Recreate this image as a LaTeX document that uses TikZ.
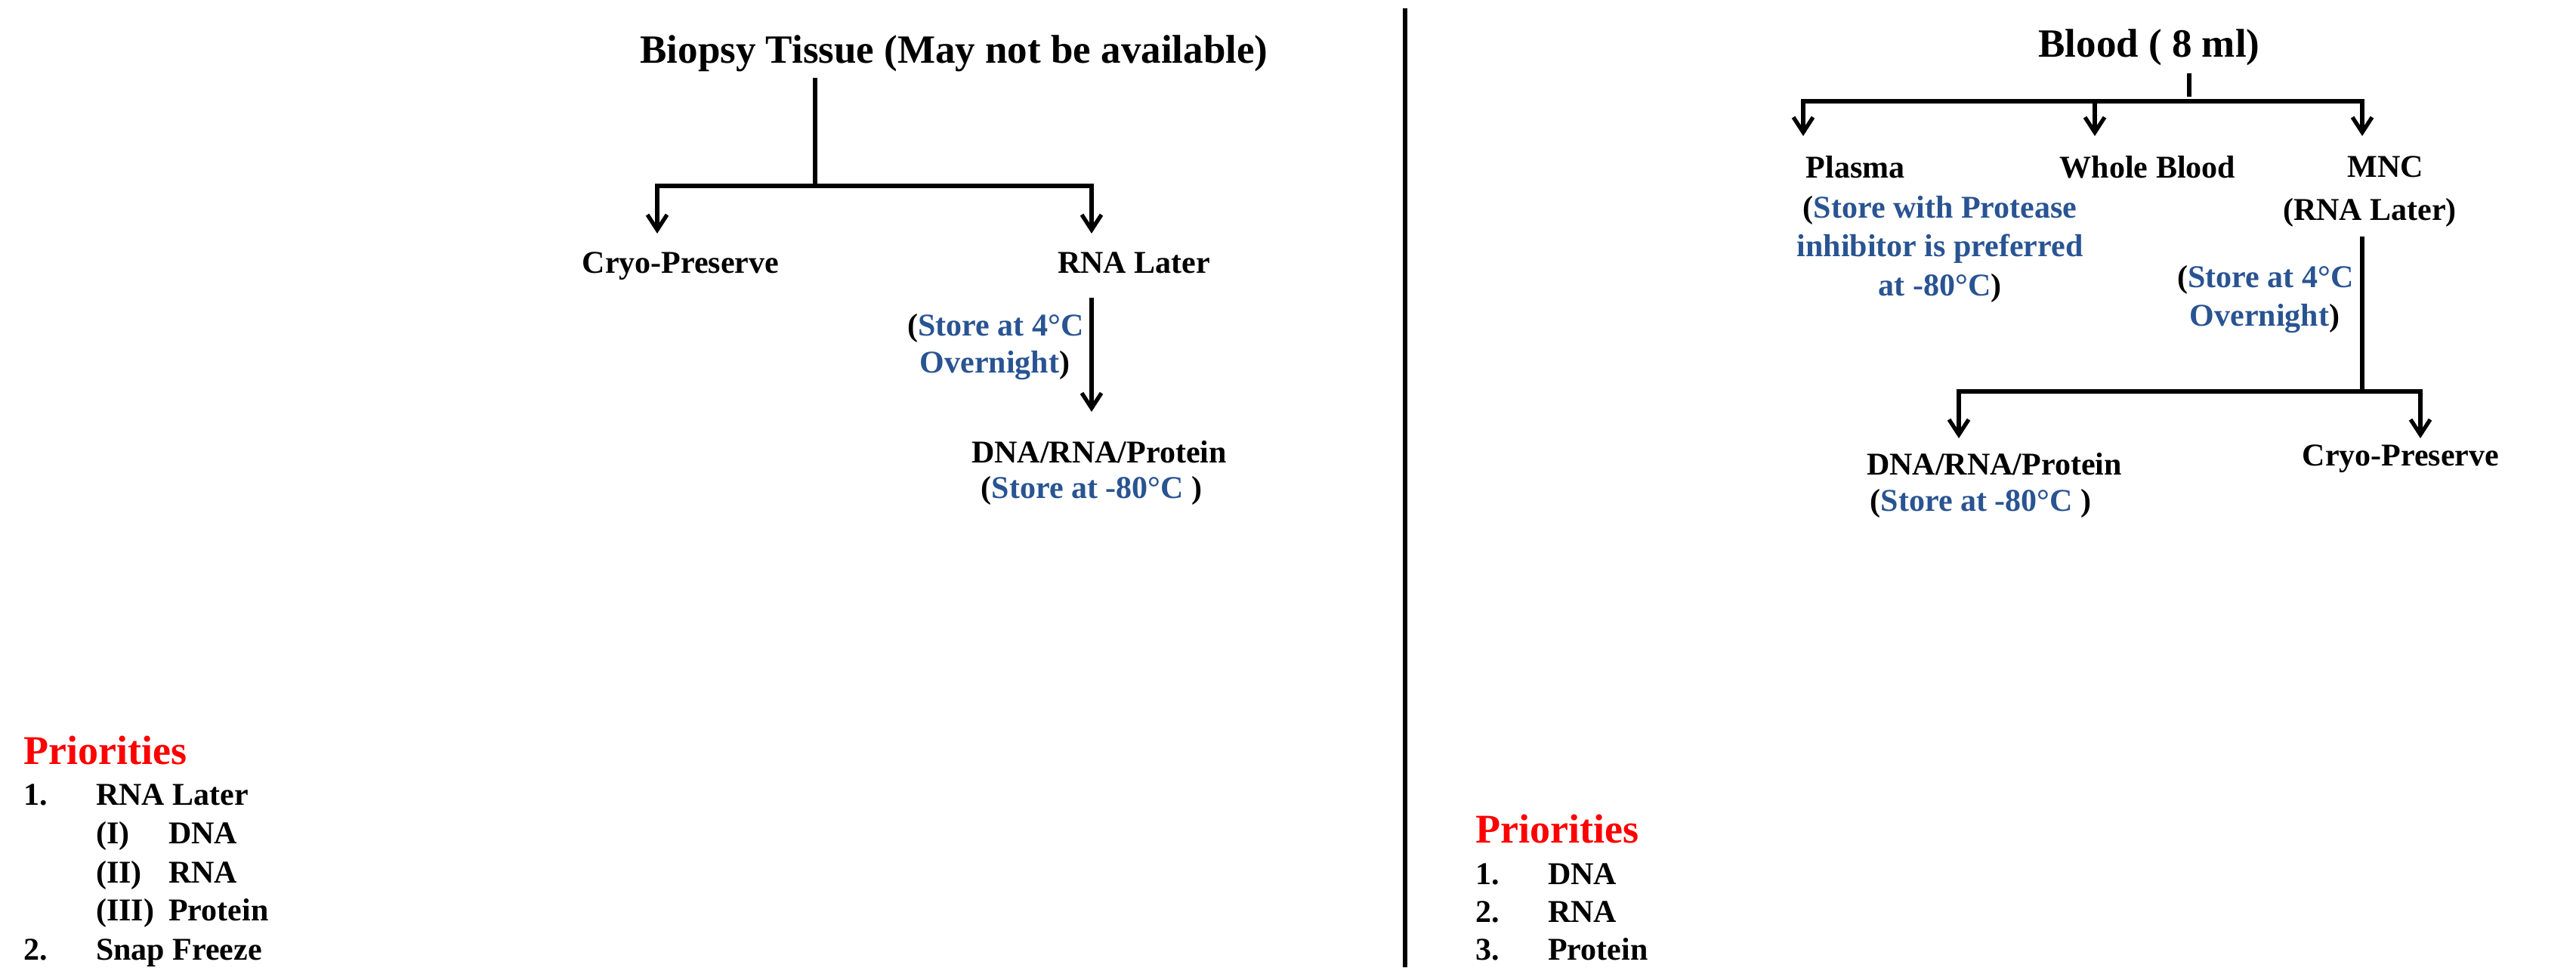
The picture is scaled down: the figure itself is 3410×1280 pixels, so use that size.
\documentclass[tikz,border=0pt]{standalone}
\usepackage{fontspec}
\setmainfont{Liberation Serif}
\usetikzlibrary{arrows.meta}
\definecolor{stblue}{RGB}{41,84,146}
\definecolor{prred}{RGB}{255,0,0}
\begin{document}
\begin{tikzpicture}[x=1pt,y=-1pt,
  ln/.style={line width=5.3pt,draw=black},
  arr/.style={ln,-{Straight Barb[length=20pt,width=26pt]}},
  ttl/.style={anchor=base,inner sep=0pt,font=\fontsize{53}{60}\selectfont\bfseries},
  lbl/.style={anchor=base,inner sep=0pt,font=\fontsize{42}{48}\selectfont\bfseries},
  prh/.style={anchor=base west,inner sep=0pt,text=prred,font=\fontsize{54}{60}\selectfont\bfseries},
  pri/.style={anchor=base west,inner sep=0pt,font=\fontsize{42}{48}\selectfont\bfseries}]
\useasboundingbox[fill=white] (0,0) rectangle (3410,1280);

% divider
\coordinate (dvt) at (1860,11);
\coordinate (dvb) at (1860,1280);
\draw[line width=5.3pt] (dvt) -- (dvb);

% ---------- left: biopsy ----------
\node[ttl] (bt) at (1263,83) {Biopsy Tissue (May not be available)};
\coordinate (bs) at (1079,103);
\coordinate (bj) at (1079,246);
\coordinate (bt1) at (870,309);
\coordinate (bt2) at (1445,309);
\draw[ln] (bs) -- (bj);
\draw[arr] (bj) -| (bt1);
\draw[arr] (bj) -| (bt2);

\node[lbl] (cryo) at (901,361) {Cryo-Preserve};
\node[lbl] (rl) at (1501,361) {RNA Later};

\coordinate (rs) at (1445,394);
\coordinate (re) at (1445,545);
\draw[arr] (rs) -- (re);
\node[lbl] (s1a) at (1318,444) {(\textcolor{stblue}{Store at 4°C}};
\node[lbl] (s1b) at (1317,493) {\textcolor{stblue}{Overnight})};

\node[lbl] (dna1) at (1455,612) {DNA/RNA/Protein};
\node[lbl] (s1c) at (1445,659) {(\textcolor{stblue}{Store at -80°C} )};

% ---------- right: blood ----------
\node[ttl] (bl) at (2845,75) {Blood ( 8 ml)};
\coordinate (ss) at (2898,97);
\coordinate (se) at (2898,128);
\draw[ln] (ss) -- (se);
\coordinate (rj) at (2898,134);
\coordinate (pt1) at (2387,180);
\coordinate (pt2) at (2773,180);
\coordinate (pt3) at (3127,180);
\draw[arr] (rj) -| (pt1);
\draw[arr] (rj) -| (pt2);
\draw[arr] (rj) -| (pt3);

\node[lbl] (pl) at (2456,235) {Plasma};
\node[lbl] (wb) at (2843,235) {Whole Blood};
\node[lbl] (mnc) at (3158,234) {MNC};
\node[lbl] (rlm) at (3137,291) {(RNA Later)};
\node[lbl] (ps1) at (2568,288) {(\textcolor{stblue}{Store with Protease}};
\node[lbl] (ps2) at (2568,339) {\textcolor{stblue}{inhibitor is preferred}};
\node[lbl] (ps3) at (2568,391) {\textcolor{stblue}{at -80°C})};

\coordinate (ms) at (3127,313);
\coordinate (mj) at (3127,518);
\coordinate (mt1) at (2593,580);
\coordinate (mt2) at (3204,580);
\draw[ln] (ms) -- (mj);
\draw[arr] (mj) -| (mt1);
\draw[arr] (mj) -| (mt2);
\node[lbl] (s2a) at (2999,380) {(\textcolor{stblue}{Store at 4°C}};
\node[lbl] (s2b) at (2998,431) {\textcolor{stblue}{Overnight})};

\node[lbl] (dna2) at (2640,628) {DNA/RNA/Protein};
\node[lbl] (s2c) at (2622,676) {(\textcolor{stblue}{Store at -80°C} )};
\node[lbl] (cryo2) at (3178,616) {Cryo-Preserve};

% ---------- priorities left ----------
\node[prh] (prl) at (31,1011) {Priorities};
\node[pri] (l1n) at (31,1065) {1.};
\node[pri] (l1t) at (127,1065) {RNA Later};
\node[pri] (l2n) at (127,1116) {(I)};
\node[pri] (l2t) at (223,1116) {DNA};
\node[pri] (l3n) at (127,1168) {(II)};
\node[pri] (l3t) at (223,1168) {RNA};
\node[pri] (l4n) at (127,1218) {(III)};
\node[pri] (l4t) at (223,1218) {Protein};
\node[pri] (l5n) at (31,1270) {2.};
\node[pri] (l5t) at (127,1270) {Snap Freeze};

% ---------- priorities right ----------
\node[prh] (prr) at (1953,1115) {Priorities};
\node[pri] (r1n) at (1953,1170) {1.};
\node[pri] (r1t) at (2049,1170) {DNA};
\node[pri] (r2n) at (1953,1220) {2.};
\node[pri] (r2t) at (2049,1220) {RNA};
\node[pri] (r3n) at (1953,1270) {3.};
\node[pri] (r3t) at (2049,1270) {Protein};
\end{tikzpicture}
\end{document}
